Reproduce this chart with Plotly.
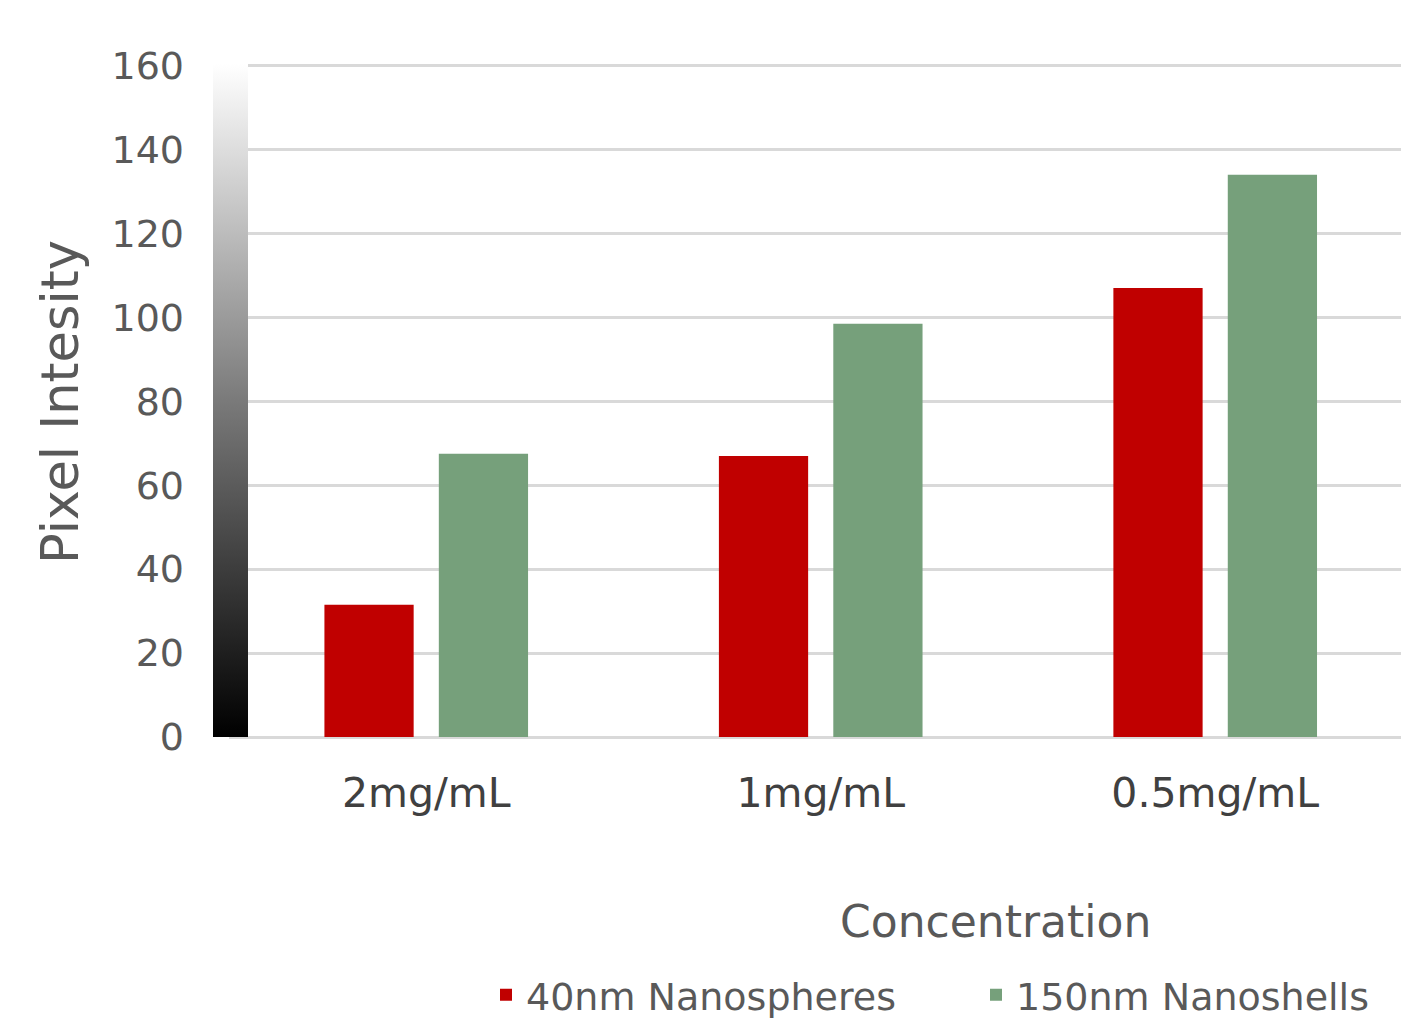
import plotly.graph_objects as go

categories = ["2mg/mL", "1mg/mL", "0.5mg/mL"]
nanospheres = [31.5, 67, 107]
nanoshells = [67.5, 98.5, 134]
series_names = ["40nm Nanospheres", "150nm Nanoshells"]
y_ticks = [0, 20, 40, 60, 80, 100, 120, 140, 160]

RED = "#C00000"
GREEN = "#76A07B"
FONT = "DejaVu Sans"

# figure is drawn with the page's 8px body margin, so it is sized to fit the window
W, H = 1393, 1018
ML, MR, MT, MB = 221, 0, 56, 289
pw = W - ML - MR
ph = H - MT - MB
base = MT + ph  # pixel row of y=0 in figure coordinates

fig = go.Figure()
fig.add_trace(go.Bar(x=categories, y=nanospheres, name=series_names[0],
                     marker=dict(color=RED, line=dict(width=0))))
fig.add_trace(go.Bar(x=categories, y=nanoshells, name=series_names[1],
                     marker=dict(color=GREEN, line=dict(width=0))))

# gradient strip along the y axis (rendered as a colour bar)
fig.add_trace(go.Scatter(
    x=[None], y=[None], mode="markers", showlegend=False, hoverinfo="skip",
    marker=dict(color=[0], cmin=0, cmax=160,
                colorscale=[[0, "#000000"], [0.5, "#7a7a7a"], [1, "#FFFFFF"]],
                showscale=True,
                colorbar=dict(x=(205 - ML) / pw, xanchor="left", xref="paper",
                              y=0, yanchor="bottom", len=1.0, lenmode="fraction",
                              thickness=35, thicknessmode="pixels",
                              xpad=0, ypad=0, outlinewidth=0,
                              showticklabels=False, ticks=""))))

fig.update_layout(
    width=W, height=H,
    margin=dict(l=ML, r=MR, t=MT, b=MB, autoexpand=False),
    paper_bgcolor="white", plot_bgcolor="white",
    barmode="group", bargap=0.42, bargroupgap=0.22,
    font=dict(family=FONT, color="#595959"),
    xaxis=dict(range=[-0.5, 2.471], showgrid=False, showline=False, zeroline=False,
               ticks="", tickfont=dict(size=41, color="#404040"),
               ticklabelstandoff=28),
    yaxis=dict(range=[0, 160.4], tickvals=y_ticks, showgrid=True,
               gridcolor="#D9D9D9", gridwidth=3, zeroline=True,
               zerolinecolor="#D9D9D9", zerolinewidth=3, showline=False,
               ticks="", tickfont=dict(size=38, color="#595959"),
               ticklabelstandoff=44),
    showlegend=True,
    legend=dict(orientation="h", x=(478 - ML) / pw, xanchor="left",
                y=(base - 987) / ph, yanchor="middle",
                font=dict(size=38, color="#595959"),
                entrywidth=445, entrywidthmode="pixels",
                bgcolor="rgba(0,0,0,0)"),
    annotations=[
        dict(text="Concentration", xref="paper", yref="paper",
             x=(987 - ML) / pw, y=(base - 914) / ph,
             xanchor="center", yanchor="middle", showarrow=False,
             font=dict(size=44, color="#595959")),
        dict(text="Pixel Intesity", xref="paper", yref="paper",
             x=(52 - ML) / pw, y=(base - 394) / ph, textangle=-90,
             xanchor="center", yanchor="middle", showarrow=False,
             font=dict(size=51, color="#595959")),
    ],
)

fig.write_html("out.html")
